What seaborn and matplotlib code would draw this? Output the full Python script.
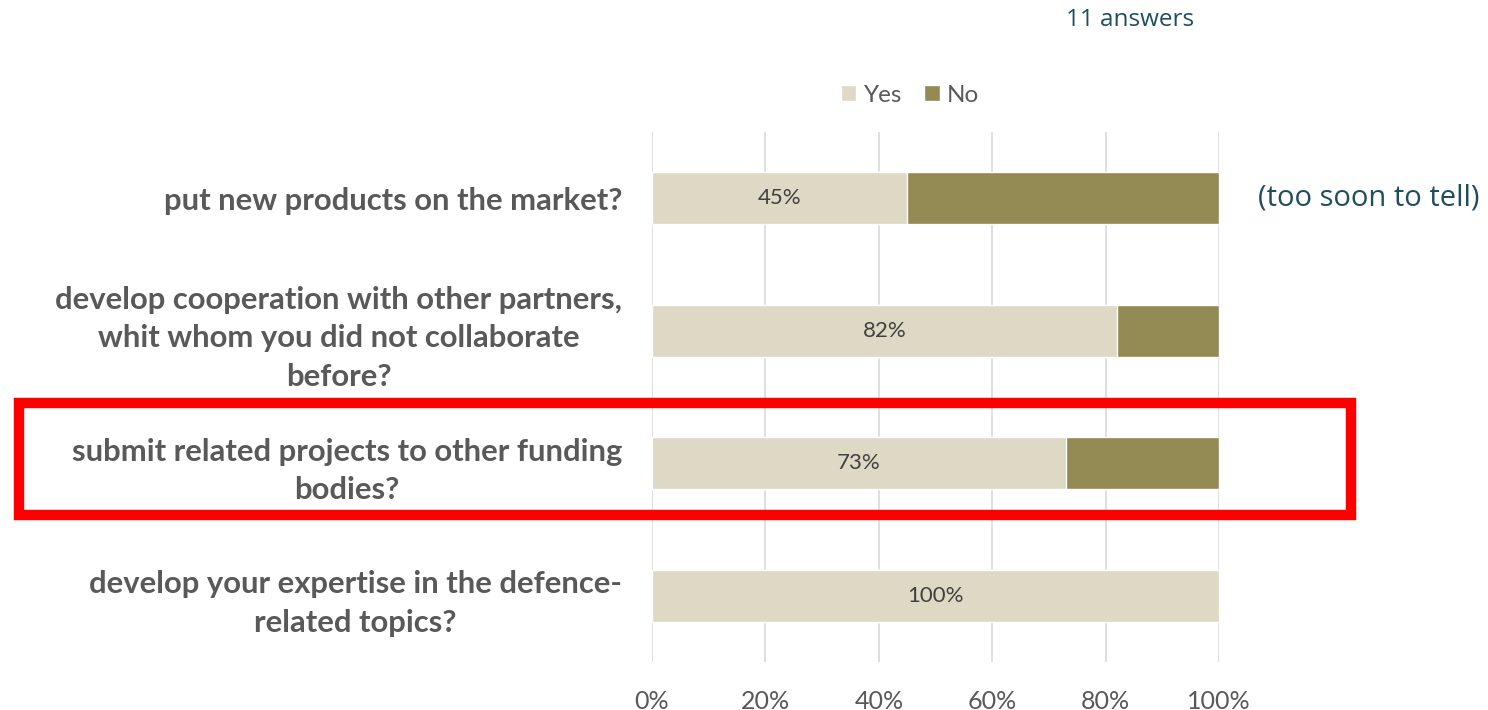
import matplotlib
matplotlib.use("Agg")
import matplotlib.pyplot as plt
from matplotlib.patches import Rectangle, Patch
import seaborn as sns
import pandas as pd

questions = [
    "put new products on the market?",
    "develop cooperation with other partners,\nwhit whom you did not collaborate\nbefore?",
    "submit related projects to other funding\nbodies?",
    "develop your expertise in the defence-\nrelated topics?",
]
yes_pct = [45, 82, 73, 100]
no_pct = [55, 18, 27, 0]
x_ticks = [0, 20, 40, 60, 80, 100]

YES_COLOR = "#DDD9C4"
NO_COLOR = "#948A54"
LABEL_GREY = "#595959"
TEAL = "#1F4E5C"

sns.set_theme(style="white")
plt.rcParams["font.family"] = ["Lato", "DejaVu Sans"]

df = pd.DataFrame({"question": questions, "Yes": yes_pct, "No": no_pct})
df["total"] = df["Yes"] + df["No"]

fig = plt.figure(figsize=(14.88, 7.10), dpi=100)
ax = fig.add_axes([652 / 1488, 1 - 662 / 710, (1219 - 652) / 1488, (662 - 132) / 710])

# stacked bars: full length in the "No" colour, "Yes" share drawn on top
sns.barplot(data=df, y="question", x="total", orient="h", color=NO_COLOR,
            width=0.39, saturation=1, ax=ax, zorder=3)
sns.barplot(data=df, y="question", x="Yes", orient="h", color=YES_COLOR,
            width=0.39, saturation=1, ax=ax, zorder=3)

for i, v in enumerate(yes_pct):
    ax.text(v / 2, i, f"{v}%", ha="center", va="center",
            fontsize=16, color="#404040", zorder=4)

ax.set_xlim(0, 100)
ax.set_ylim(3.5, -0.5)
ax.set_xticks(x_ticks)
ax.set_xticklabels([f"{t}%" for t in x_ticks], fontsize=18, color=LABEL_GREY)
ax.tick_params(axis="x", length=0, pad=20)
ax.set_yticks(range(len(questions)))
ax.set_yticklabels(questions, fontsize=22.3, fontweight="bold", color=LABEL_GREY,
                   multialignment="center", linespacing=1.45)
ax.tick_params(axis="y", length=0, pad=21.5)
ax.set_xlabel("")
ax.set_ylabel("")
ax.xaxis.grid(True, color="#D9D9D9", linewidth=1.2, zorder=0)
ax.yaxis.grid(False)
for s in ax.spines.values():
    s.set_visible(False)

# legend
handles = [Patch(facecolor=YES_COLOR, label="Yes"), Patch(facecolor=NO_COLOR, label="No")]
fig.legend(handles=handles, loc="center", bbox_to_anchor=(910 / 1488, 1 - 95 / 710),
           ncol=2, frameon=False, fontsize=17.5, handlelength=0.65, handleheight=0.65,
           handletextpad=0.3, columnspacing=0.9, labelcolor=LABEL_GREY)

fig.text(1130 / 1488, 1 - 20 / 710, "11 answers", ha="center", va="center",
         fontsize=17.5, color=TEAL, family=["Open Sans", "DejaVu Sans"])
fig.text(1258 / 1488, 1 - 198 / 710, "(too soon to tell)", ha="left", va="center",
         fontsize=21, color=TEAL, family=["Open Sans", "DejaVu Sans"])

# highlight frame around the third question
fig.patches.append(Rectangle((19 / 1488, 1 - 515 / 710), (1351 - 19) / 1488, (515 - 403) / 710,
                             transform=fig.transFigure, fill=False, edgecolor="#FF0000",
                             linewidth=7.5, zorder=10))

fig.savefig("out.png", dpi=100)
